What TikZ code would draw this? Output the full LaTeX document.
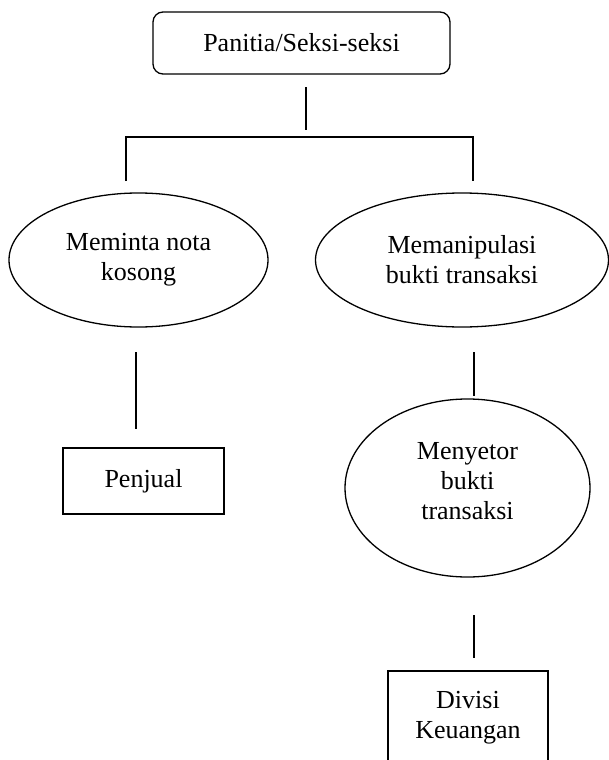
\documentclass[tikz,border=0pt]{standalone}
\usepackage{fontspec}
\setmainfont{Liberation Serif}
\usetikzlibrary{shapes.geometric}
\tikzset{
  every node/.style={font=\fontsize{26}{30}\selectfont, align=center, inner sep=0pt},
  shapeline/.style={draw=black, line width=1.3pt},
  roundbox/.style={shapeline, rectangle, rounded corners=10pt},
  plainbox/.style={shapeline, rectangle},
  oval/.style={shapeline, ellipse},
  conn/.style={draw=black, line width=1.6pt}
}
\begin{document}
\begin{tikzpicture}[x=1pt,y=-1pt]
\useasboundingbox (0,0) rectangle (609,760);
\clip (0,0) rectangle (609,760);
\fill[white] (0,0) rectangle (609,760);
% nodes
\node[roundbox, minimum width=297pt, minimum height=62pt] (top) at (301.5,43) {Panitia/Seksi-seksi};
\node[oval, minimum width=259pt, minimum height=134pt] (minta) at (138.5,260) {Meminta nota\\kosong};
\node[oval, minimum width=293pt, minimum height=134pt] (manip) at (462,260) {Memanipulasi\\bukti transaksi};
\node[plainbox, minimum width=161pt, minimum height=66pt] (penjual) at (143.5,481) {Penjual};
\node[oval, minimum width=245pt, minimum height=178pt, text depth=14pt] (setor) at (467.5,488) {Menyetor\\bukti\\transaksi};
\node[plainbox, minimum width=160pt, minimum height=99pt, text depth=12pt] (divisi) at (468,720.5) {Divisi\\Keuangan};
% free ends of connectors
\coordinate (s1) at (306,87);
\coordinate (s2) at (306,130);
\coordinate (l1) at (126,181);
\coordinate (l2) at (126,137);
\coordinate (r2) at (473,137);
\coordinate (r1) at (473,181);
\coordinate (p1) at (136,352);
\coordinate (p2) at (136,429);
\coordinate (m1) at (474,352);
\coordinate (m2) at (474,396);
\coordinate (d1) at (474,615);
\coordinate (d2) at (474,658);
% connectors
\draw[conn] (s1) -- (s2);
\draw[conn] (l1) -- (l2) -- (r2) -- (r1);
\draw[conn] (p1) -- (p2);
\draw[conn] (m1) -- (m2);
\draw[conn] (d1) -- (d2);
\end{tikzpicture}
\end{document}
